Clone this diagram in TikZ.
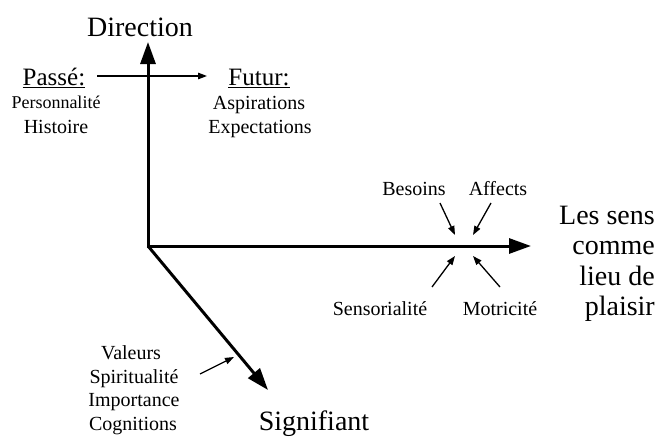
\documentclass[tikz,border=0pt]{standalone}
\usepackage{fontspec}
\setmainfont{Liberation Serif}
\usetikzlibrary{arrows.meta}
\begin{document}
\begin{tikzpicture}[x=1pt,y=-1pt,
  big/.style={font=\fontsize{28}{31}\selectfont, inner sep=0pt, anchor=base},
  head/.style={font=\fontsize{25}{28}\selectfont, inner sep=0pt, anchor=base},
  small/.style={font=\fontsize{20}{23}\selectfont, inner sep=0pt, anchor=base},
  smaller/.style={font=\fontsize{18}{21}\selectfont, inner sep=0pt, anchor=base},
  axis/.style={line width=3pt, line join=miter, -{Triangle[length=22pt,width=15pt]}},
  thin/.style={line width=1.3pt, -{Triangle[length=9pt,width=6.5pt]}}]
\useasboundingbox (0,0) rectangle (656,439);
% titles
\node[big] (dir) at (140,36) {Direction};
\node[big] (sig) at (314,430) {Signifiant};
\node[big, anchor=base east] (les1) at (655,224) {Les sens};
\node[big, anchor=base east] (les2) at (655,254) {comme};
\node[big, anchor=base east] (les3) at (655,285) {lieu de};
\node[big, anchor=base east] (les4) at (655,315) {plaisir};
% past / future
\node[head] (passe) at (54,85) {\underline{Passé:}};
\node[smaller] (pers) at (56,108) {Personnalité};
\node[small] (hist) at (56,133) {Histoire};
\node[head] (futur) at (259,85) {\underline{Futur:}};
\node[small] (asp) at (259,109) {Aspirations};
\node[small] (exp) at (260,133) {Expectations};
% around horizontal axis
\node[small] (bes) at (414,195) {Besoins};
\node[small] (aff) at (498,195) {Affects};
\node[small] (sens) at (380,315) {Sensorialité};
\node[small] (mot) at (500,315) {Motricité};
% values
\node[small] (val) at (131,359) {Valeurs};
\node[small] (spi) at (134,383) {Spiritualité};
\node[small] (imp) at (134,406) {Importance};
\node[small] (cog) at (133,430) {Cognitions};
% axes
\coordinate (O) at (148,246);
\coordinate (V) at (148,42);
\coordinate (H) at (531,246);
\coordinate (D) at (268,390);
\draw[axis] (O) -- (V);
\draw[axis] (O) -- (H);
\draw[axis] (O) -- (D);
\fill (146.5,244.5) rectangle (149.5,247.5);
% thin arrows
\coordinate (pa) at (97,76);
\coordinate (fu) at (207,76);
\draw[thin] (pa) -- (fu);
\coordinate (b1) at (440,203); \coordinate (b2) at (455,235);
\coordinate (a1) at (491,203); \coordinate (a2) at (473,235);
\coordinate (s1) at (432,287); \coordinate (s2) at (455,256);
\coordinate (m1) at (500,287); \coordinate (m2) at (473,256);
\coordinate (v1) at (200,374); \coordinate (v2) at (234,357);
\draw[thin] (b1) -- (b2);
\draw[thin] (a1) -- (a2);
\draw[thin] (s1) -- (s2);
\draw[thin] (m1) -- (m2);
\draw[thin] (v1) -- (v2);
\end{tikzpicture}
\end{document}
